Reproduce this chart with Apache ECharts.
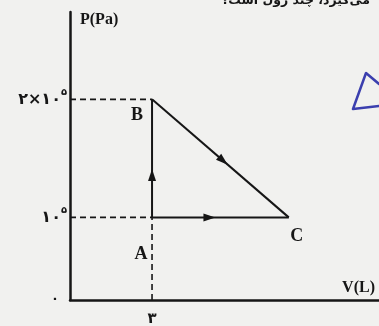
<!DOCTYPE html>
<html><head><meta charset="utf-8">
<script src="https://cdn.jsdelivr.net/npm/echarts@6/dist/echarts.min.js"></script>
<style>html,body{margin:0;padding:0;background:#f1f1ef}#chart{width:379px;height:326px}</style>
</head><body><div id="chart"></div>
<script>
// Gas states: name, volume (L), pressure (Pa)
const stateNames = ['A', 'B', 'C'];
const volumes = [3, 3, 8];
const pressures = [1e5, 2e5, 1e5];
// Processes as [from, to] state indices
const processes = [[0, 1], [1, 2], [0, 2]];
// Fraction along each process where its direction arrow sits
const arrowAt = [0.36, 0.52, 0.42];
// States joined to the P axis / V axis by dashed guides
const pGuideStates = [0, 1];
const vGuideStates = [0];
// Tick labels in Persian digits (mantissa + power of ten)
const pTickText = ['۱۰', '۲×۱۰'];
const pTickPower = ['۵', '۵'];
const vTickText = ['۳'];
const originText = '۰';
const pAxisName = 'P(Pa)';
const vAxisName = 'V(L)';
const caption = 'می‌گیرد، چند ژول است؟';

// Axis extents (sketch is not drawn to scale near the origin)
const pAxisMin = 30000, pAxisMax = 274000;
const vAxisMin = 0, vAxisMax = 11.3;

const INK = '#161616';
const serif = 'Liberation Serif';
const persian = 'DejaVu Sans';

const pt = i => [volumes[i], pressures[i]];

const series = [];
const dashed = { color: INK, width: 1.6, type: [6, 4] };

// Dashed guides to the pressure axis
pGuideStates.forEach(s => {
  series.push({ type: 'line', silent: true, symbol: 'none', lineStyle: dashed,
    data: [[vAxisMin, pressures[s]], pt(s)] });
});
// Dashed guides to the volume axis
vGuideStates.forEach(s => {
  series.push({ type: 'line', silent: true, symbol: 'none', lineStyle: dashed,
    data: [[volumes[s], pAxisMin], pt(s)] });
});

// Tick labels at the axis ends of the guides
series.push({
  type: 'scatter', silent: true, symbolSize: 0,
  itemStyle: { opacity: 1 },
  data: pGuideStates.map((s, k) => ({
    value: [vAxisMin, pressures[s]],
    label: { show: true, position: 'left', distance: 3,
      formatter: '{m|' + pTickText[k] + '}{e|' + pTickPower[k] + '}',
      rich: {
        m: { fontFamily: persian, fontSize: 16, color: INK, fontWeight: 'bold' },
        e: { fontFamily: persian, fontSize: 10, color: INK, fontWeight: 'bold', padding: [0, 0, 13, 0] }
      } }
  })).concat(vGuideStates.map((s, k) => ({
    value: [volumes[s], pAxisMin],
    label: { show: true, position: 'bottom', distance: 12,
      formatter: vTickText[k], fontFamily: persian, fontSize: 15, fontWeight: 'bold', color: INK }
  }))).concat([{
    value: [vAxisMin, pAxisMin],
    label: { show: true, position: 'left', distance: 11,
      formatter: originText, fontFamily: persian, fontSize: 13, fontWeight: 'bold', color: INK }
  }])
});

// Processes
processes.forEach(([a, b]) => {
  series.push({ type: 'line', silent: true, symbol: 'none',
    lineStyle: { color: INK, width: 2 }, data: [pt(a), pt(b)] });
});

// Direction arrows
const arrowData = processes.map(([a, b], i) => {
  const t = arrowAt[i];
  return [volumes[a] + t * (volumes[b] - volumes[a]), pressures[a] + t * (pressures[b] - pressures[a])];
});
series.push({
  id: 'arrows', type: 'scatter', silent: true,
  symbol: 'triangle', symbolSize: [8, 12],
  itemStyle: { color: INK, opacity: 1 },
  data: arrowData
});

// State names
const nameOffset = { A: [-11, 37], B: [-15, 16], C: [8, 19] };
series.push({
  type: 'scatter', silent: true, symbolSize: 0,
  itemStyle: { opacity: 1 },
  data: stateNames.map((n, i) => ({
    value: pt(i), name: n,
    label: { show: true, position: nameOffset[n], align: 'center', verticalAlign: 'middle',
      formatter: n, fontFamily: serif, fontWeight: 'bold', fontSize: 18, color: INK }
  }))
});

const chart = echarts.init(document.getElementById('chart'), null, { renderer: 'canvas' });
chart.setOption({
  backgroundColor: '#f1f1ef',
  animation: false,
  grid: { left: 70, right: 0, top: 12, bottom: 26 },
  xAxis: {
    type: 'value', min: vAxisMin, max: vAxisMax,
    name: vAxisName, nameLocation: 'end', nameGap: -4,
    nameTextStyle: { align: 'right', verticalAlign: 'bottom', padding: [0, 0, 4, 0],
      fontFamily: serif, fontWeight: 'bold', fontSize: 16, color: INK },
    axisLine: { lineStyle: { color: INK, width: 2.5 } },
    axisTick: { show: false }, axisLabel: { show: false }, splitLine: { show: false }
  },
  yAxis: {
    type: 'value', min: pAxisMin, max: pAxisMax,
    name: pAxisName, nameLocation: 'end', nameGap: -8,
    nameTextStyle: { align: 'left', verticalAlign: 'middle', padding: [0, 0, 0, 10],
      fontFamily: serif, fontWeight: 'bold', fontSize: 16, color: INK },
    axisLine: { lineStyle: { color: INK, width: 2.5 } },
    axisTick: { show: false }, axisLabel: { show: false }, splitLine: { show: false }
  },
  graphic: [
    { type: 'text', right: 9, top: -6, silent: true,
      style: { text: caption, font: 'bold 12.5px "DejaVu Sans"', fill: INK } },
    { type: 'polyline', silent: true,
      shape: { points: [[379, 84], [366, 73], [353, 109], [379, 106]] },
      style: { stroke: '#3b3fae', lineWidth: 2.5, fill: null, lineJoin: 'round', lineCap: 'round' } }
  ],
  series
});

// Orient each arrow along its process in screen space
const rot = processes.map(([a, b]) => {
  const p0 = chart.convertToPixel({ gridIndex: 0 }, pt(a));
  const p1 = chart.convertToPixel({ gridIndex: 0 }, pt(b));
  return Math.atan2(-(p1[1] - p0[1]), p1[0] - p0[0]) * 180 / Math.PI - 90;
});
chart.setOption({
  series: [{ id: 'arrows', data: arrowData.map((v, i) => ({ value: v, symbolRotate: rot[i] })) }]
});
</script></body></html>
